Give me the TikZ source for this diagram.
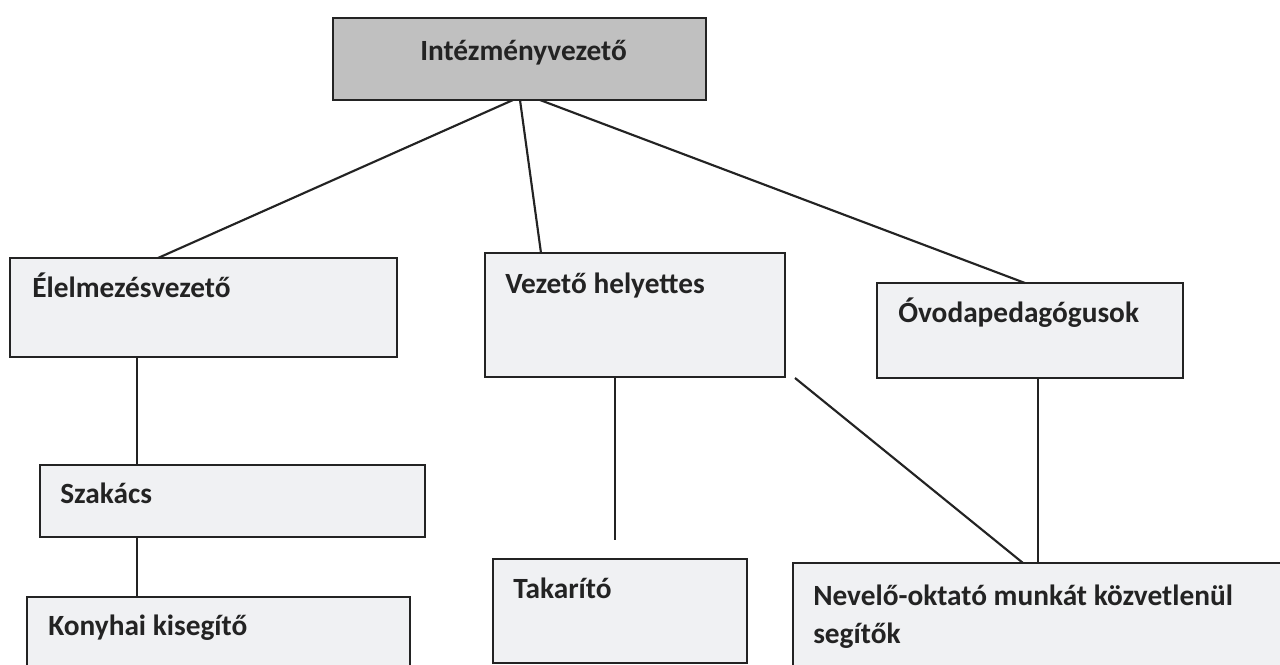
\documentclass[tikz,border=0pt]{standalone}
\usepackage{fontspec}
\setmainfont{Carlito}
\usetikzlibrary{calc}
\definecolor{topfill}{RGB}{192,192,192}
\definecolor{boxfill}{RGB}{240,241,243}
\definecolor{ink}{RGB}{35,35,35}
\begin{document}
\begin{tikzpicture}[x=0.75pt,y=-0.75pt,
  box/.style={draw=ink, line width=1.6pt, fill=boxfill, rectangle, inner sep=0pt, outer sep=0pt, anchor=north west},
  lbl/.style={anchor=base west, inner sep=0pt, font=\fontsize{22}{28.5}\selectfont\bfseries, text=ink},
  link/.style={draw=ink, line width=1.6pt}]
\useasboundingbox (0,0) rectangle (1280,664);
\fill[white] (0,0) rectangle (1280,664);
\clip (0,0) rectangle (1280,664);

% boxes
\node[box, fill=topfill, minimum width=279.75pt, minimum height=61.5pt] (I) at (333,18) {};
\node[box, minimum width=290.25pt, minimum height=74.25pt] (E) at (10,258) {};
\node[box, minimum width=225pt, minimum height=93pt] (V) at (485,253) {};
\node[box, minimum width=229.5pt, minimum height=71.25pt] (O) at (877,283) {};
\node[box, minimum width=288.75pt, minimum height=54pt] (S) at (40,465) {};
\node[box, minimum width=287.25pt, minimum height=60pt] (K) at (27,597) {};
\node[box, minimum width=190.5pt, minimum height=78pt] (T) at (493,559) {};
\node[box, minimum width=375pt, minimum height=82.5pt] (N) at (793,563) {};

% texts
\node[lbl] (Itxt) at ($(I.north west)+(87,42)$) {Intézményvezető};
\node[lbl] (Etxt) at ($(E.north west)+(22,39)$) {Élelmezésvezető};
\node[lbl] (Vtxt) at ($(V.north west)+(20,40)$) {Vezető helyettes};
\node[lbl] (Otxt) at ($(O.north west)+(21,39)$) {Óvodapedagógusok};
\node[lbl] (Stxt) at ($(S.north west)+(20,38)$) {Szakács};
\node[lbl] (Ktxt) at ($(K.north west)+(21,38)$) {Konyhai kisegítő};
\node[lbl] (Ttxt) at ($(T.north west)+(20,39)$) {Takarító};
\node[lbl] (Ntxt1) at ($(N.north west)+(20,42)$) {Nevelő-oktató munkát közvetlenül};
\node[lbl] (Ntxt2) at ($(N.north west)+(20,80)$) {segítők};

% connectors
\draw[link] ($(I.south west)+(180,0)$) -- ($(E.north west)+(148,0)$);
\draw[link] ($(I.south west)+(187,0)$) -- ($(V.north west)+(56,0)$);
\draw[link] ($(I.south west)+(207,0)$) -- ($(O.north west)+(148,0)$);
\draw[link] ($(E.south west)+(127,0)$) -- ($(S.north west)+(97,0)$);
\draw[link] ($(S.south west)+(97,0)$) -- ($(K.north west)+(110,0)$);
\coordinate (tEnd) at ($(T.north west)+(122,-19)$);
\draw[link] ($(V.south west)+(130,0)$) -- (tEnd);
\coordinate (vStart) at ($(V.south east)+(10,1)$);
\draw[link] (vStart) -- ($(N.north west)+(230,0)$);
\draw[link] ($(O.south west)+(161,0)$) -- ($(N.north west)+(245,0)$);
\end{tikzpicture}
\end{document}
